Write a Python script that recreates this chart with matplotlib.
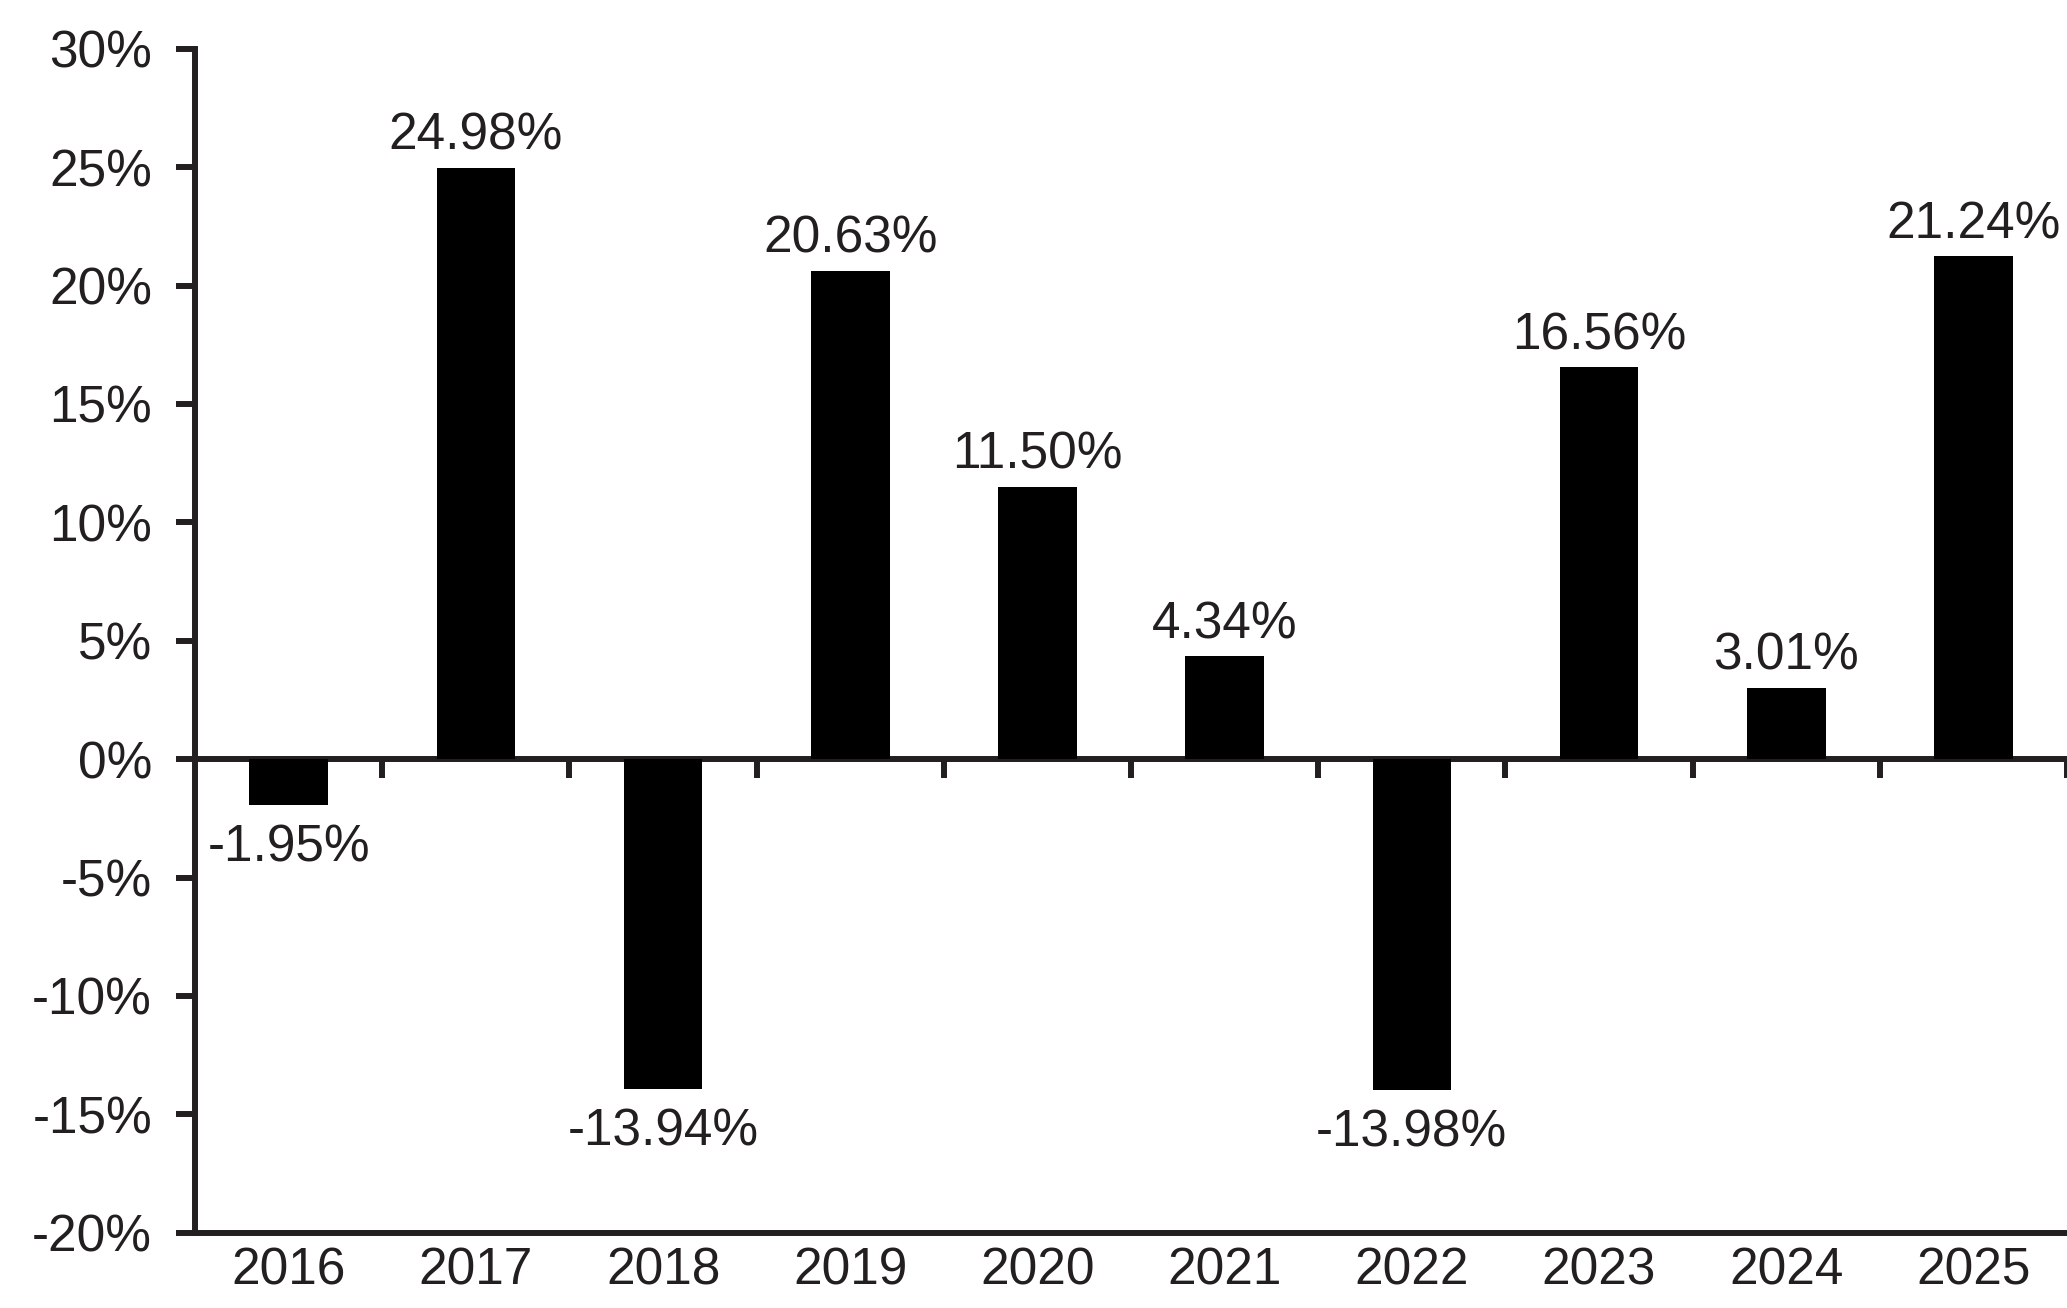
"""
Calendar-year returns bar chart.
"""

import matplotlib

matplotlib.use("Agg")
import matplotlib.pyplot as plt
import numpy as np
from matplotlib.ticker import FuncFormatter

# Chart data
years = ["2016", "2017", "2018", "2019", "2020", "2021", "2022", "2023", "2024", "2025"]
returns = [-1.95, 24.98, -13.94, 20.63, 11.50, 4.34, -13.98, 16.56, 3.01, 21.24]
y_ticks = [-20, -15, -10, -5, 0, 5, 10, 15, 20, 25, 30]

INK = "#231f20"
FONT_SIZE = 37


def main() -> None:
    plt.rcParams["font.family"] = ["Liberation Sans", "DejaVu Sans"]

    fig = plt.figure(figsize=(20.67, 13.08), dpi=100)
    ax = fig.add_axes([0.0944, 0.0575, 0.9056, 0.9052])

    x = np.arange(len(years))
    ax.bar(x, returns, width=0.42, color="black", zorder=2)

    # Value labels above/below each bar
    for xi, val in zip(x, returns):
        if val >= 0:
            ax.annotate(f"{val:.2f}%", (xi, val), xytext=(0, 5),
                        textcoords="offset points", ha="center", va="bottom",
                        fontsize=FONT_SIZE, color=INK)
        else:
            ax.annotate(f"{val:.2f}%", (xi, val), xytext=(0, -13),
                        textcoords="offset points", ha="center", va="top",
                        fontsize=FONT_SIZE, color=INK)

    ax.set_xlim(-0.5, len(years) - 0.5)
    ax.set_ylim(y_ticks[0], y_ticks[-1])

    # Y axis
    ax.set_yticks(y_ticks)
    ax.yaxis.set_major_formatter(FuncFormatter(lambda v, _: f"{v:.0f}%"))
    ax.tick_params(axis="y", direction="out", length=14, width=4.3,
                   color=INK, labelsize=FONT_SIZE, labelcolor=INK, pad=17)

    # X axis: year labels under the bottom spine, no tick marks
    ax.set_xticks(x)
    ax.set_xticklabels(years)
    ax.tick_params(axis="x", length=0, labelsize=FONT_SIZE, labelcolor=INK, pad=10)

    for side in ["top", "right"]:
        ax.spines[side].set_visible(False)
    for side in ["left", "bottom"]:
        ax.spines[side].set_linewidth(4.3)
        ax.spines[side].set_color(INK)

    # Zero line with separators between categories
    zero_axis = ax.secondary_xaxis(0, transform=ax.transData)
    zero_axis.set_xticks(x + 0.5)
    zero_axis.set_xticklabels([])
    zero_axis.tick_params(axis="x", direction="out", length=14, width=4.3, color=INK)
    zero_axis.spines["bottom"].set_linewidth(4.3)
    zero_axis.spines["bottom"].set_color(INK)

    fig.savefig("out.png", dpi=100, facecolor="white")


if __name__ == "__main__":
    main()
